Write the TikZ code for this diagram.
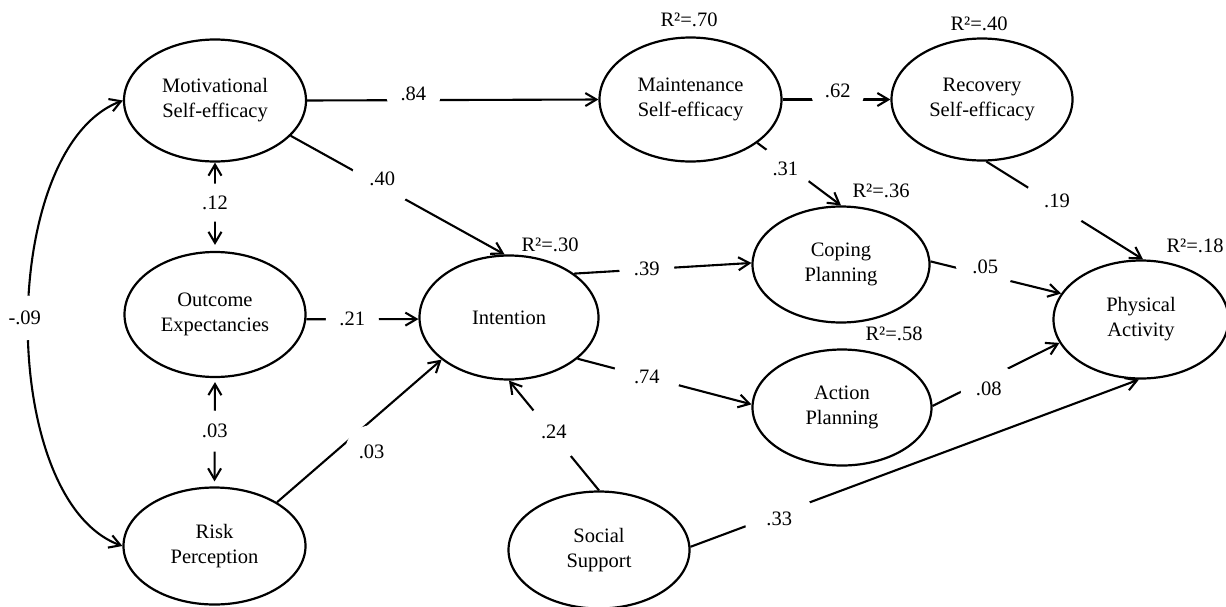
\documentclass[tikz,border=0pt]{standalone}
\usepackage{fontspec}
\setmainfont{Liberation Serif}
\usetikzlibrary{shapes.geometric,arrows.meta}
\begin{document}
\begin{tikzpicture}[x=1pt,y=-1pt,
  lv/.style={ellipse, draw, line width=2.2pt, inner sep=0pt, align=center, font=\fontsize{20.5}{25}\selectfont},
  coef/.style={circle, fill=white, inner sep=0pt, minimum size=#1, font=\fontsize{20.5}{24}\selectfont},
  rsq/.style={font=\fontsize{20.5}{24}\selectfont, inner sep=0pt},
  arr/.style={line width=2.1pt, -{Straight Barb[length=11pt,width=13pt]}},
  bi/.style={line width=2.1pt, {Straight Barb[length=11pt,width=13pt]}-{Straight Barb[length=11pt,width=13pt]}}
]
\useasboundingbox (0,0) rectangle (1226,606);
% latent variables
\node[lv, minimum width=182pt, minimum height=122pt] (Mot) at (215,100.5) {Motivational\\Self-efficacy};
\node[lv, minimum width=182pt, minimum height=124pt] (Maint) at (690.5,99.5) {Maintenance\\Self-efficacy};
\node[lv, minimum width=181pt, minimum height=122pt] (Rec) at (982,99.5) {Recovery\\Self-efficacy};
\node[lv, minimum width=181pt, minimum height=125pt] (Out) at (215,314.5) {Outcome\\Expectancies};
\node[lv, minimum width=182pt, minimum height=117pt] (Risk) at (214.5,546) {Risk\\Perception};
\node[lv, minimum width=179pt, minimum height=124pt] (Int) at (509,317.5) {Intention};
\node[lv, minimum width=177pt, minimum height=116pt] (Cop) at (841,264.5) {Coping\\Planning};
\node[lv, minimum width=179pt, minimum height=116pt] (Act) at (842,407.5) {Action\\Planning};
\node[lv, minimum width=175pt, minimum height=118pt] (PA) at (1141,319.5) {Physical\\Activity};
\node[lv, minimum width=181pt, minimum height=117pt] (Soc) at (599,550) {Social\\Support};
% paths
\draw[arr] (Mot.east) -- node[coef=54pt, pos=.365, yshift=6pt] (c84) {.84} (Maint.west);
\draw[arr] (Mot.-25) -- node[coef=61pt, pos=.437, xshift=-2pt, yshift=8.4pt] (c40) {.40} (Int.94);
\draw[bi, shorten >=6pt] (Mot.south) -- node[coef=38pt, pos=.453] (c12) {.12} (Out.north);
\draw[arr] (Out.-3) -- node[coef=53pt, pos=.41] (c21) {.21} (Int.181);
\draw[bi, shorten <=4pt, shorten >=5pt] (Out.south) -- node[coef=41pt, pos=.49] (c03a) {.03} (Risk.north);
\draw[arr] (Risk.35) -- node[coef=53pt, pos=.478, xshift=15.9pt, yshift=-17.7pt] (c03b) {.03} (Int.212);
\draw[arr] (Int.34.5) -- node[coef=55pt, pos=.41] (c39) {.39} (Cop.179);
\draw[arr] (Int.-31) -- node[coef=66pt, pos=.398] (c74) {.74} (Act.178);
\draw[arr] (Maint.-33) -- node[coef=53pt, pos=.362, xshift=-2.3pt, yshift=-3pt] (c31) {.31} (Cop.north);
\draw[arr] (Maint.east) -- node[coef=54pt, pos=.511, yshift=9pt] (c62) {.62} (Rec.west);
\draw[arr] (Rec.-86) -- node[coef=63pt, pos=.437, xshift=2.1pt, yshift=3.6pt] (c19) {.19} (PA.88);
\draw[arr] (Cop.2) -- node[coef=58pt, pos=.405, xshift=1.8pt, yshift=7.7pt] (c05) {.05} (PA.162);
\draw[arr] (Act.1) -- node[coef=56pt, pos=.408, xshift=4.4pt, yshift=-8.8pt] (c08) {.08} (PA.196);
\draw[arr] (Soc.2) -- node[coef=69pt, pos=.1945, xshift=1.6pt, yshift=-4.5pt] (c33) {.33} (PA.-92);
\draw[arr] (Soc.north) -- node[coef=59pt, pos=.521, xshift=1.8pt, yshift=1.4pt] (c24) {.24} (Int.south);
\draw[bi] (Mot.west) .. controls (-3,148) and (-3,500) .. (Risk.west) node[coef=45pt, pos=.49, xshift=-3.7pt] (c09) {-.09};
% explained variance
\node[rsq] (r70) at (689,20) {R²=.70};
\node[rsq] (r40) at (979,23.5) {R²=.40};
\node[rsq] (r36) at (881,190.5) {R²=.36};
\node[rsq] (r18) at (1195,245.5) {R²=.18};
\node[rsq] (r30) at (550,245) {R²=.30};
\node[rsq] (r58) at (894,334) {R²=.58};
\end{tikzpicture}
\end{document}
